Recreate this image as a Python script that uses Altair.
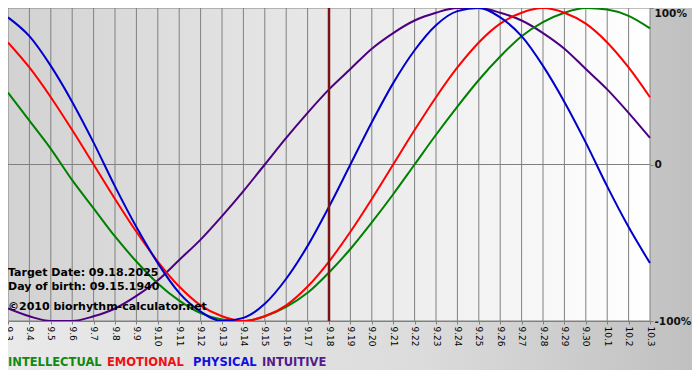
import altair as alt
import pandas as pd

# ---- data ----
days = ["9.3", "9.4", "9.5", "9.6", "9.7", "9.8", "9.9", "9.10", "9.11", "9.12",
        "9.13", "9.14", "9.15", "9.16", "9.17", "9.18", "9.19", "9.20", "9.21",
        "9.22", "9.23", "9.24", "9.25", "9.26", "9.27", "9.28", "9.29", "9.30",
        "10.1", "10.2", "10.3"]
physical = [94, 82, 63, 40, 14, -14, -40, -63, -82, -94, -100, -98, -89, -73, -52,
            -27, 0, 27, 52, 73, 89, 98, 100, 94, 82, 63, 40, 14, -14, -40, -63]
emotional = [78, 62, 43, 22, 0, -22, -43, -62, -78, -90, -97, -100, -97, -90, -78,
             -62, -43, -22, 0, 22, 43, 62, 78, 90, 97, 100, 97, 90, 78, 62, 43]
intellectual = [46, 28, 10, -10, -28, -46, -62, -76, -87, -95, -99, -100, -97, -91,
                -82, -69, -54, -37, -19, 0, 19, 37, 54, 69, 82, 91, 97, 100, 99, 95, 87]
intuitive = [-92, -97, -100, -100, -97, -92, -84, -74, -61, -48, -33, -17, 0, 17, 33,
             48, 61, 74, 84, 92, 97, 100, 100, 97, 92, 84, 74, 61, 48, 33, 17]
y_ticks = [-100, 0, 100]
series_names = ["INTUITIVE", "INTELLECTUAL", "EMOTIONAL", "PHYSICAL"]
legend_order = ["INTELLECTUAL", "EMOTIONAL", "PHYSICAL", "INTUITIVE"]
target_day = "9.18"
info_lines = ["Target Date: 09.18.2025", "Day of birth: 09.15.1940",
              "\u00a92010 biorhythm-calculator.net"]

# ---- styles / layout ----
W, H = 642, 313
PAD = {"left": 0, "top": 0, "right": 42, "bottom": 49}
line_colors = {"INTUITIVE": "#4b0082", "INTELLECTUAL": "#008000",
               "EMOTIONAL": "#ff0000", "PHYSICAL": "#0000cc"}
legend_colors = {"INTELLECTUAL": "#108a10", "EMOTIONAL": "#ee1111",
                 "PHYSICAL": "#1010dd", "INTUITIVE": "#551a8b"}
legend_x = {"INTELLECTUAL": 0, "EMOTIONAL": 99, "PHYSICAL": 185, "INTUITIVE": 254}
info_y = [268, 282, 302]
FONT = "DejaVu Sans"
GRID = "#808080"

series_vals = {"INTUITIVE": intuitive, "INTELLECTUAL": intellectual,
               "EMOTIONAL": emotional, "PHYSICAL": physical}
rows = []
for name in series_names:
    for d, v in zip(days, series_vals[name]):
        rows.append({"day": d, "series": name, "value": v})
df = pd.DataFrame(rows)

xscale = alt.Scale(type="point", domain=days, padding=0)
yscale = alt.Scale(domain=[-100, 100])

xaxis = alt.Axis(title=None, grid=False, zindex=1,
                 ticks=True, tickSize=3, tickColor=GRID, domain=True, domainColor=GRID,
                 labelAngle=90, labelAlign="left", labelBaseline="middle",
                 labelFontSize=9, labelFont=FONT, labelColor="#000000",
                 labelPadding=2, labelOverlap=False)
yaxis = alt.Axis(orient="right", title=None, values=y_ticks, grid=False, zindex=1,
                 ticks=True, tickSize=3, tickColor=GRID, domain=False,
                 labelExpr="datum.value == 0 ? '0' : datum.value + '%'",
                 labelFontSize=10.5, labelFontWeight="bold", labelFont=FONT,
                 labelColor="#111111", labelPadding=1, labelAlign="left",
                 labelFlush=False,
                 labelBaseline={"condition": {"test": "datum.value == 100", "value": "top"},
                                "value": "middle"})

outer_grad = {"gradient": "linear", "x1": 0, "y1": 0, "x2": 1, "y2": 0,
              "stops": [{"offset": 0, "color": "#e9e9e9"},
                        {"offset": 0.6, "color": "#dcdcdc"},
                        {"offset": 1, "color": "#c0c0c0"}]}
plot_grad = {"gradient": "linear", "x1": 0, "y1": 0, "x2": 1, "y2": 0,
             "stops": [{"offset": 0, "color": "#d2d2d2"},
                       {"offset": 1, "color": "#ffffff"}]}

one = pd.DataFrame({"a": [0]})
outer = alt.Chart(one).mark_rect(fill=outer_grad).encode(
    x=alt.value(0), x2=alt.value(W + PAD["right"]),
    y=alt.value(0), y2=alt.value(H + PAD["bottom"]))

plot_bg = alt.Chart(pd.DataFrame({"x0": [days[0]], "x1": [days[-1]],
                                  "y0": [-100], "y1": [100]})).mark_rect(fill=plot_grad).encode(
    x=alt.X("x0:O", scale=xscale, axis=xaxis),
    x2="x1",
    y=alt.Y("y0:Q", scale=yscale, axis=yaxis),
    y2="y1")

vgrid = alt.Chart(pd.DataFrame({"day": days})).mark_rule(
    color=GRID, strokeWidth=1).encode(
    x=alt.X("day:O", scale=xscale, axis=xaxis))

hgrid = alt.Chart(pd.DataFrame({"v": y_ticks})).mark_rule(
    color=GRID, strokeWidth=1).encode(
    y=alt.Y("v:Q", scale=yscale, axis=yaxis))

lines = alt.Chart(df).mark_line(strokeWidth=2, interpolate="monotone").encode(
    x=alt.X("day:O", scale=xscale, axis=xaxis),
    y=alt.Y("value:Q", scale=yscale, axis=yaxis),
    color=alt.Color("series:N", legend=None,
                    scale=alt.Scale(domain=series_names,
                                    range=[line_colors[s] for s in series_names])))

rule = alt.Chart(pd.DataFrame({"day": [target_day]})).mark_rule(
    color="#7a1414", strokeWidth=2.5).encode(
    x=alt.X("day:O", scale=xscale, axis=xaxis))

layers = [outer, plot_bg, vgrid, hgrid, lines, rule]

for txt, yy in zip(info_lines, info_y):
    layers.append(alt.Chart(pd.DataFrame({"t": [txt]})).mark_text(
        align="left", baseline="alphabetic", font=FONT, fontSize=11,
        fontWeight="bold", color="#000000").encode(
        x=alt.value(0), y=alt.value(yy), text="t:N"))

for name in legend_order:
    layers.append(alt.Chart(pd.DataFrame({"t": [name]})).mark_text(
        align="left", baseline="alphabetic", font=FONT, fontSize=11.5,
        fontWeight="bold", color=legend_colors[name]).encode(
        x=alt.value(legend_x[name]), y=alt.value(358), text="t:N"))

chart = alt.layer(*layers).properties(
    width=W, height=H,
    autosize=alt.AutoSizeParams(type="none"),
    padding=PAD,
    background="#d8d8d8",
).configure_view(stroke=None)

chart.save("out.html", embed_options={"renderer": "svg", "actions": False})
